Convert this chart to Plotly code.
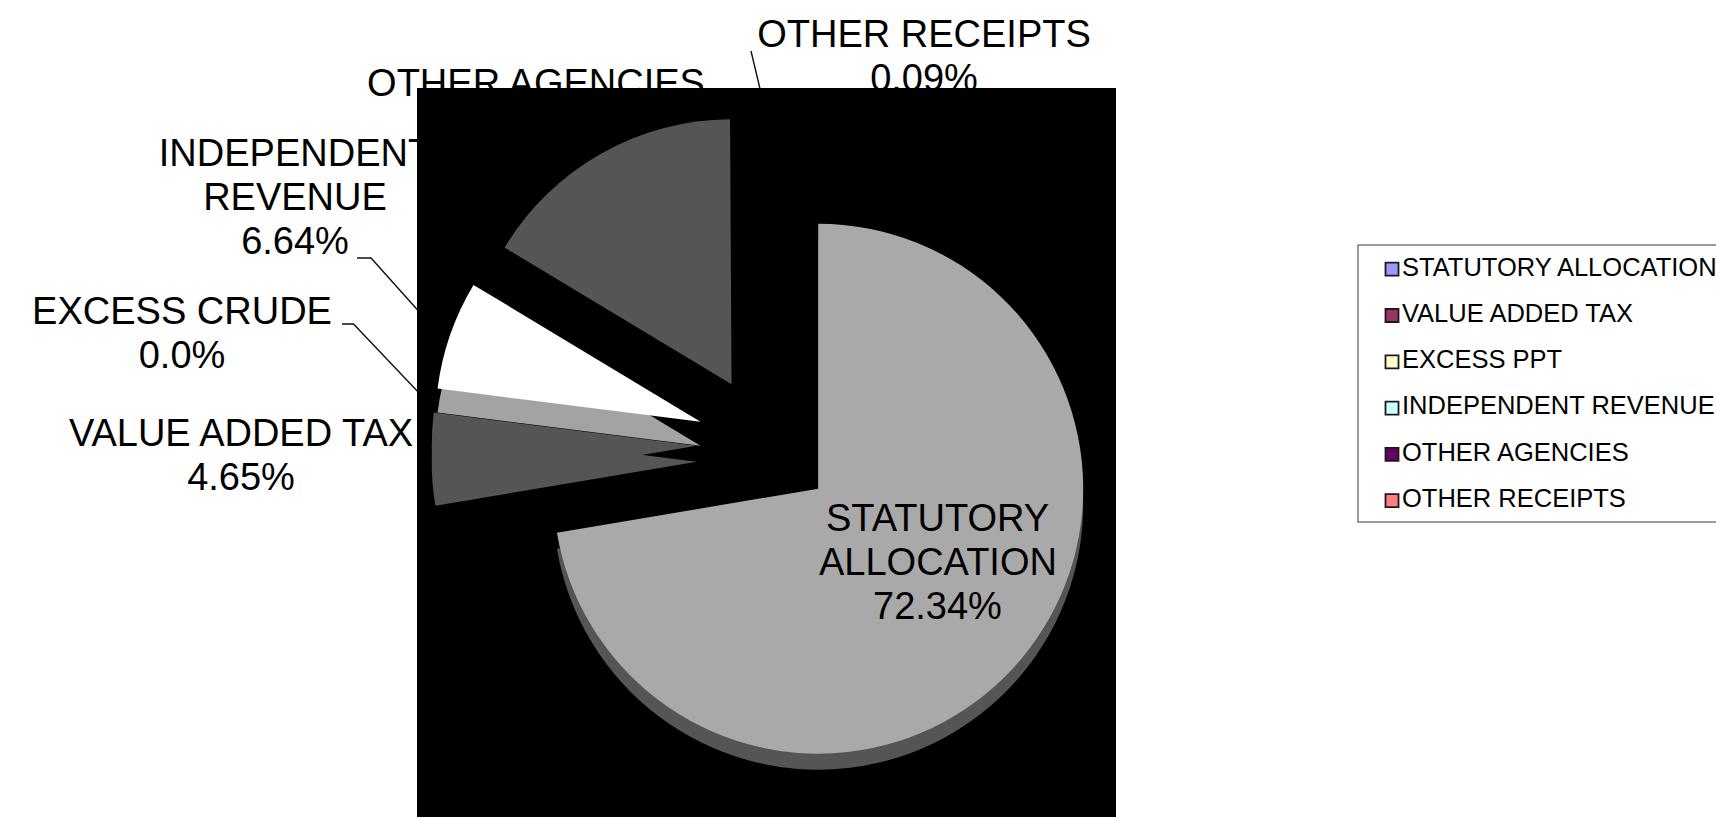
import plotly.graph_objects as go

# Revenue sources and their share of the total (%)
categories = ["STATUTORY ALLOCATION", "VALUE ADDED TAX", "EXCESS PPT",
              "INDEPENDENT REVENUE", "OTHER AGENCIES", "OTHER RECEIPTS"]
shares = [72.34, 4.65, 0.0, 6.64, 16.28, 0.09]
callout_names = [["STATUTORY", "ALLOCATION"], ["VALUE ADDED TAX"], ["EXCESS CRUDE"],
                 ["INDEPENDENT", "REVENUE"], ["OTHER AGENCIES"], ["OTHER RECEIPTS"]]
pct_decimals = [2, 2, 1, 2, 2, 2]
legend_colors = ["#9999FF", "#993366", "#FFFFCC", "#CCFFFF", "#660066", "#FF8080"]
slice_grays = ["#A9A9A9", "#555555", "#A9A9A9", "#FFFFFF", "#555555", "#000000"]

W, H = 1716, 817
FONT = "Liberation Sans, Arial, sans-serif"
LABEL_SIZE = 38
LINE_GAP = 44
CLEAR = "rgba(0,0,0,0)"

# pie geometry (pixels)
PIE_CX, PIE_CY, PIE_R, PULL = 765.6, 444.2, 265.0, 0.26
box = 2 * PIE_R * (1 + PULL)
dom_x = [(PIE_CX - box / 2) / W, (PIE_CX + box / 2) / W]
cy_up = H - PIE_CY
dom_y = [(cy_up - 340) / H, (cy_up + 340) / H]

# callout anchor (centre x, middle of first line y) and leader polylines
callout_pos = {
    "VALUE ADDED TAX": (241, 436),
    "EXCESS PPT": (182, 314),
    "INDEPENDENT REVENUE": (295, 156),
    "OTHER AGENCIES": (536, 86),
    "OTHER RECEIPTS": (924, 37.5),
}
leaders = {
    "INDEPENDENT REVENUE": [(357, 258), (371, 258), (440, 335)],
    "EXCESS PPT": [(342, 324), (353.5, 324), (440, 415)],
    "OTHER RECEIPTS": [(751, 51), (771, 135)],
}
BACKDROP = dict(x0=417, x1=1116, y0=88, y1=H)


def pct(i):
    return f"{shares[i]:.{pct_decimals[i]}f}%"


fig = go.Figure()

# leader lines
lx, ly = [], []
for pts in leaders.values():
    for x, y in pts:
        lx.append(x)
        ly.append(y)
    lx.append(None)
    ly.append(None)
fig.add_trace(go.Scatter(x=lx, y=ly, mode="lines", line=dict(color="#111111", width=1.4),
                         hoverinfo="skip", showlegend=False))

# outside callout text, one entry per line
tx, ty, tt = [], [], []
for i, cat in enumerate(categories):
    if cat not in callout_pos:
        continue
    cx, cy = callout_pos[cat]
    lines = callout_names[i] + [pct(i)]
    for k, line in enumerate(lines):
        tx.append(cx)
        ty.append(cy + k * LINE_GAP)
        tt.append(line)
fig.add_trace(go.Scatter(x=tx, y=ty, text=tt, mode="text", textposition="middle center",
                         textfont=dict(family=FONT, size=LABEL_SIZE, color="black"),
                         hoverinfo="skip", showlegend=False))

# black backdrop behind the pie
b = BACKDROP
fig.add_trace(go.Scatter(x=[b["x0"], b["x1"], b["x1"], b["x0"], b["x0"]],
                         y=[b["y0"], b["y0"], b["y1"], b["y1"], b["y0"]],
                         mode="lines", fill="toself", fillcolor="black",
                         line=dict(width=0, color="black"), hoverinfo="skip", showlegend=False))

# legend entries
LEG_X, LEG_Y0, LEG_STEP = 1392, 269.2, 46.3
leg_y = [LEG_Y0 + k * LEG_STEP for k in range(len(categories))]
fig.add_trace(go.Scatter(x=[LEG_X] * len(categories), y=leg_y, mode="markers",
                         marker=dict(symbol="square", size=13, color=legend_colors,
                                     line=dict(color="#1a1a1a", width=1.8)),
                         hoverinfo="skip", showlegend=False))
fig.add_trace(go.Scatter(x=[LEG_X + 10] * len(categories), y=leg_y, text=categories,
                         mode="text", textposition="middle right",
                         textfont=dict(family=FONT, size=25.5, color="black"),
                         hoverinfo="skip", showlegend=False))


def pie(colors, drop_px):
    return go.Pie(labels=categories, values=shares, sort=False, direction="clockwise",
                  rotation=0, pull=[PULL] * len(shares),
                  marker=dict(colors=colors, line=dict(width=0)),
                  textinfo="none", hoverinfo="skip", showlegend=False,
                  domain=dict(x=dom_x, y=[dom_y[0] - drop_px / H, dom_y[1] - drop_px / H]))


# side walls of the tilted pie, then the slice tops
wall_dark = ["#555555", "#555555", CLEAR, CLEAR, CLEAR, CLEAR]
wall_ir = [CLEAR, CLEAR, CLEAR, "#A3A3A3", CLEAR, CLEAR]
fig.add_trace(pie(wall_dark, 16))
fig.add_trace(pie(wall_ir, 24))
fig.add_trace(pie(slice_grays, 0))

# label inside the largest slice
sx, sy = 937.5, 518
for k, line in enumerate(callout_names[0] + [pct(0)]):
    fig.add_annotation(x=sx, y=sy + k * LINE_GAP, xref="x", yref="y", text=line,
                       showarrow=False, xanchor="center", yanchor="middle",
                       font=dict(family=FONT, size=LABEL_SIZE, color="black"))

# legend frame
fig.add_shape(type="rect", xref="x", yref="y", x0=1358, x1=1760, y0=245, y1=522,
              line=dict(color="#7a7a7a", width=1.5), fillcolor=CLEAR, layer="above")

fig.update_layout(
    width=W, height=H,
    margin=dict(l=0, r=0, t=0, b=0, pad=0, autoexpand=False),
    paper_bgcolor="white", plot_bgcolor=CLEAR, showlegend=False,
    xaxis=dict(range=[0, W], visible=False, domain=[0, 1], fixedrange=True),
    yaxis=dict(range=[H, 0], visible=False, domain=[0, 1], fixedrange=True),
)

fig.write_html("out.html")
